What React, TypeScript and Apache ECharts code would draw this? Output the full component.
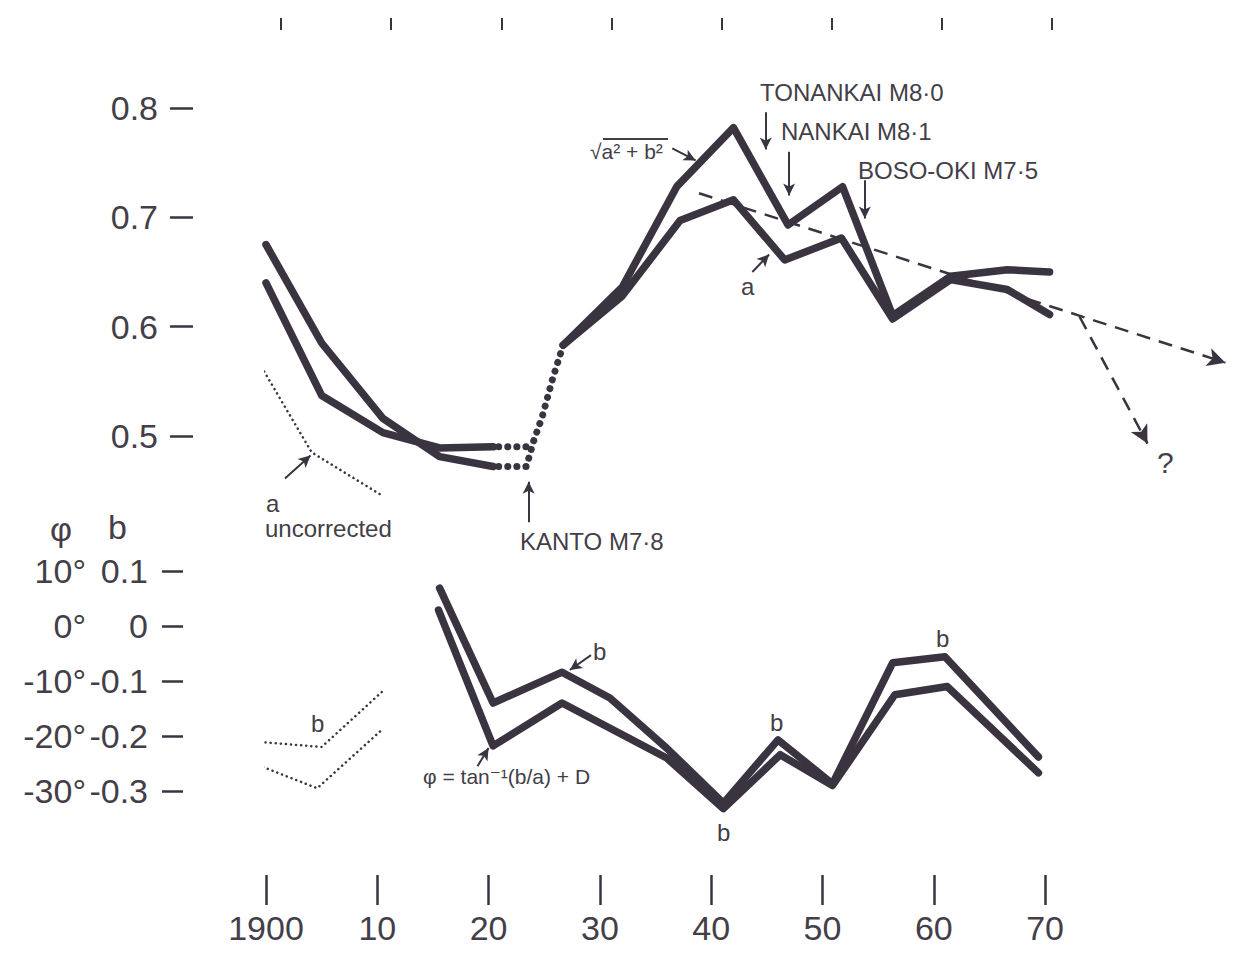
import React, { useEffect, useRef } from "react";
import * as echarts from "echarts";

const INK = "#3a3440";
const TXT = "#433e48";
const FONT = "'Liberation Sans', 'DejaVu Sans', sans-serif";

// ---- axis ticks ----
const yearTicks = [1900, 1910, 1920, 1930, 1940, 1950, 1960, 1970];
const topTicks = [0, 10, 20, 30, 40, 50, 60, 70];
const upperTicks = [0.5, 0.6, 0.7, 0.8];
const lowerTicks = [-0.3, -0.2, -0.1, 0, 0.1];

// ---- upper panel: sqrt(a^2+b^2) and a ----
const sqrtEarly: [number, number][] = [
  [1900, 0.675], [1905, 0.585], [1910.5, 0.516], [1915.6, 0.481], [1920.4, 0.472],
];
const sqrtDotted: [number, number][] = [
  [1920.9, 0.472], [1923.4, 0.472], [1924, 0.494], [1924.8, 0.517], [1925.8, 0.554], [1926.7, 0.583],
];
const sqrtLate: [number, number][] = [
  [1926.7, 0.583], [1932, 0.636], [1936.9, 0.728], [1942, 0.782], [1946.9, 0.693],
  [1951.8, 0.728], [1956.3, 0.61], [1961.5, 0.646], [1966.6, 0.652], [1970.4, 0.65],
];
const aEarly: [number, number][] = [
  [1900, 0.64], [1905, 0.537], [1910.5, 0.503], [1915.6, 0.489], [1920.4, 0.49],
];
const aDotted: [number, number][] = [[1920.9, 0.49], [1923.8, 0.49]];
const aLate: [number, number][] = [
  [1926.7, 0.583], [1932, 0.628], [1937.2, 0.697], [1942, 0.716], [1946.6, 0.661],
  [1951.7, 0.681], [1956.3, 0.607], [1961.5, 0.643], [1966.6, 0.634], [1970.4, 0.611],
];
const aUncorrected: [number, number][] = [[1899.6, 0.563], [1904.1, 0.485], [1910.5, 0.445]];

// trend arrows
const trendMain: [number, number][] = [[1938.9, 0.722], [1986.2, 0.567]];
const trendBranch: [number, number][] = [[1973.1, 0.609], [1979.2, 0.493]];

// earthquakes (year, arrow from, arrow to)
const quakeArrows: [number, number, number][] = [
  [1944.9, 0.796, 0.762], // Tonankai
  [1947.0, 0.760, 0.72], // Nankai
  [1953.8, 0.734, 0.699], // Boso-oki
  [1923.6, 0.421, 0.458], // Kanto
];

// ---- lower panel: b and phi ----
const bSeries: [number, number][] = [
  [1915.6, 0.069], [1920.4, -0.14], [1926.6, -0.084], [1930.9, -0.131], [1936.0, -0.222],
  [1941.1, -0.322], [1946.0, -0.207], [1950.9, -0.287], [1956.3, -0.067], [1961.0, -0.056], [1969.4, -0.238],
];
const phiSeries: [number, number][] = [
  [1915.5, 0.029], [1920.4, -0.218], [1926.6, -0.14], [1936.0, -0.24], [1941.1, -0.332],
  [1946.2, -0.234], [1950.9, -0.29], [1956.5, -0.125], [1961.2, -0.11], [1969.4, -0.267],
];
const bUncorrected1: [number, number][] = [[1899.5, -0.211], [1905, -0.22], [1910.4, -0.12]];
const bUncorrected2: [number, number][] = [[1899.3, -0.253], [1904.6, -0.295], [1910.4, -0.189]];

function solid(name: string, data: [number, number][], gi: number) {
  return {
    name, type: "line", data, xAxisIndex: gi, yAxisIndex: gi, symbol: "none", clip: false,
    lineStyle: { color: INK, width: 7.5, join: "round", cap: "round" }, silent: true, z: 3,
  };
}
function dots(name: string, data: [number, number][], gi: number, w: number, gap: number) {
  return {
    name, type: "line", data, xAxisIndex: gi, yAxisIndex: gi, symbol: "none", clip: false,
    lineStyle: { color: INK, width: w, type: [0.1, gap], cap: "round" }, silent: true, z: 3,
  };
}
function seg(a: [number, number], b: [number, number]) {
  return [{ coord: a }, { coord: b }];
}

export default function App() {
  const ref = useRef<HTMLDivElement>(null);
  useEffect(() => {
    const chart = echarts.init(ref.current!, null, { renderer: "svg" });
    const labelTxt = { fontFamily: FONT, fontSize: 34, color: TXT };
    const option: any = {
      animation: false,
      backgroundColor: "#fff",
      grid: [
        { left: 281, width: 771, top: 30, height: 1 },
        { left: 266, width: 970, top: 86.14, height: 459.06 },
        { left: 266, width: 834.75, top: 560, height: 286 },
      ],
      xAxis: [
        {
          gridIndex: 0, type: "value", min: 0, max: 70, interval: 10, position: "top",
          axisLine: { show: false, onZero: false }, splitLine: { show: false }, axisLabel: { show: false },
          axisTick: { show: true, length: 12, lineStyle: { color: INK, width: 2 }, customValues: topTicks },
        },
        {
          gridIndex: 1, type: "value", min: 1900, max: 1987.15, show: false, splitLine: { show: false },
          axisLine: { onZero: false },
        },
        {
          gridIndex: 2, type: "value", min: 1900, max: 1975, interval: 10, position: "bottom", offset: 29,
          axisLine: { show: false, onZero: false }, splitLine: { show: false },
          axisTick: { show: true, length: 30, lineStyle: { color: INK, width: 2.5 }, customValues: yearTicks },
          axisLabel: {
            ...labelTxt, margin: 36, customValues: yearTicks,
            formatter: (v: number) => (v === 1900 ? "1900" : String(v - 1900)),
          },
        },
      ],
      yAxis: [
        { gridIndex: 0, type: "value", min: 0, max: 1, show: false },
        {
          gridIndex: 1, type: "value", min: 0.4, max: 0.82, interval: 0.1, position: "left", offset: 73,
          axisLine: { show: false, onZero: false }, splitLine: { show: false },
          axisTick: { show: true, length: 23, lineStyle: { color: INK, width: 2.5 }, customValues: upperTicks },
          axisLabel: { ...labelTxt, margin: 35, customValues: upperTicks, formatter: (v: number) => v.toFixed(1) },
        },
        {
          gridIndex: 2, type: "value", min: -0.4, max: 0.12, interval: 0.1, position: "left", offset: 83,
          axisLine: { show: false, onZero: false }, splitLine: { show: false },
          axisTick: { show: true, length: 21, lineStyle: { color: INK, width: 2.5 }, customValues: lowerTicks },
          axisLabel: {
            ...labelTxt, margin: 35, customValues: lowerTicks,
            formatter: (v: number) => {
              const r = Math.round(v * 10) / 10;
              const deg = Math.round(r * 100);
              const bs = r === 0 ? "0" : r.toFixed(1);
              return `{d|${deg}°}{b|${bs}}`;
            },
            rich: {
              d: { width: 75, align: "right", fontFamily: FONT, fontSize: 34, color: TXT },
              b: { width: 62, align: "right", fontFamily: FONT, fontSize: 34, color: TXT },
            },
          },
        },
      ],
      series: [
        solid("sqrt(a²+b²) 1900-1920", sqrtEarly, 1),
        dots("sqrt(a²+b²) Kanto gap", sqrtDotted, 1, 7, 9),
        solid("sqrt(a²+b²)", sqrtLate, 1),
        solid("a 1900-1920", aEarly, 1),
        dots("a Kanto gap", aDotted, 1, 7, 9),
        solid("a", aLate, 1),
        dots("a uncorrected", aUncorrected, 1, 2.5, 5),
        {
          name: "trend", type: "line", data: [], xAxisIndex: 1, yAxisIndex: 1, silent: true,
          markLine: {
            silent: true, symbol: ["none", "arrow"], symbolSize: [14, 18], label: { show: false },
            lineStyle: { color: INK, width: 2.5, type: [14, 9] },
            data: [seg(trendMain[0], trendMain[1]), seg(trendBranch[0], trendBranch[1])],
          },
        },
        {
          name: "quakes", type: "line", data: [], xAxisIndex: 1, yAxisIndex: 1, silent: true,
          markLine: {
            silent: true, symbol: ["none", "arrow"], symbolSize: [9, 12], label: { show: false },
            lineStyle: { color: INK, width: 2, type: "solid" },
            data: [
              ...quakeArrows.map((q) => seg([q[0], q[1]], [q[0], q[2]])),
              seg([1936.5, 0.763], [1938.6, 0.752]),
              seg([1943.7, 0.65], [1945.2, 0.666]),
              seg([1901.7, 0.461], [1904.0, 0.482]),
            ],
          },
        },
        solid("b", bSeries, 2),
        solid("φ", phiSeries, 2),
        dots("b uncorrected", bUncorrected1, 2, 2.5, 5),
        dots("φ uncorrected", bUncorrected2, 2, 2.5, 5),
        {
          name: "lower pointers", type: "line", data: [], xAxisIndex: 2, yAxisIndex: 2, silent: true,
          markLine: {
            silent: true, symbol: ["none", "arrow"], symbolSize: [9, 12], label: { show: false },
            lineStyle: { color: INK, width: 2, type: "solid" },
            data: [seg([1929.2, -0.053], [1927.3, -0.08]), seg([1919.0, -0.255], [1920.0, -0.222])],
          },
        },
      ],
      graphic: [
        ...[
          { t: "TONANKAI M8·0", x: 760, y: 92, s: 24 },
          { t: "NANKAI M8·1", x: 781, y: 131, s: 24 },
          { t: "BOSO-OKI M7·5", x: 858, y: 170, s: 24 },
          { t: "KANTO M7·8", x: 520, y: 541, s: 24 },
          { t: "√a² + b²", x: 590, y: 151, s: 21 },
          { t: "a", x: 741, y: 286, s: 24 },
          { t: "a", x: 266, y: 503, s: 24 },
          { t: "uncorrected", x: 265, y: 528, s: 24 },
          { t: "?", x: 1157, y: 462, s: 30 },
          { t: "b", x: 593, y: 651, s: 24 },
          { t: "b", x: 770, y: 722, s: 24 },
          { t: "b", x: 717, y: 832, s: 24 },
          { t: "b", x: 936, y: 638, s: 24 },
          { t: "b", x: 311, y: 723, s: 24 },
          { t: "φ = tan⁻¹(b/a) + D", x: 423, y: 776, s: 21 },
          { t: "φ", x: 50, y: 529, s: 34 },
          { t: "b", x: 108, y: 527, s: 34 },
        ].map((g) => ({
          type: "text", x: g.x, y: g.y, silent: true,
          style: {
            text: g.t, font: `${g.s}px ${FONT}`, fill: TXT,
            align: "left", textAlign: "left", verticalAlign: "middle", textVerticalAlign: "middle",
          },
        })),
        {
          type: "line", silent: true,
          shape: { x1: 603, y1: 139, x2: 668, y2: 139 },
          style: { stroke: TXT, lineWidth: 2 },
        },
      ],
    };
    chart.setOption(option);
    return () => chart.dispose();
  }, []);
  return (
    <div
      ref={ref}
      style={{ position: "absolute", left: 0, top: 0, width: 1236, height: 955, background: "#fff" }}
    />
  );
}
